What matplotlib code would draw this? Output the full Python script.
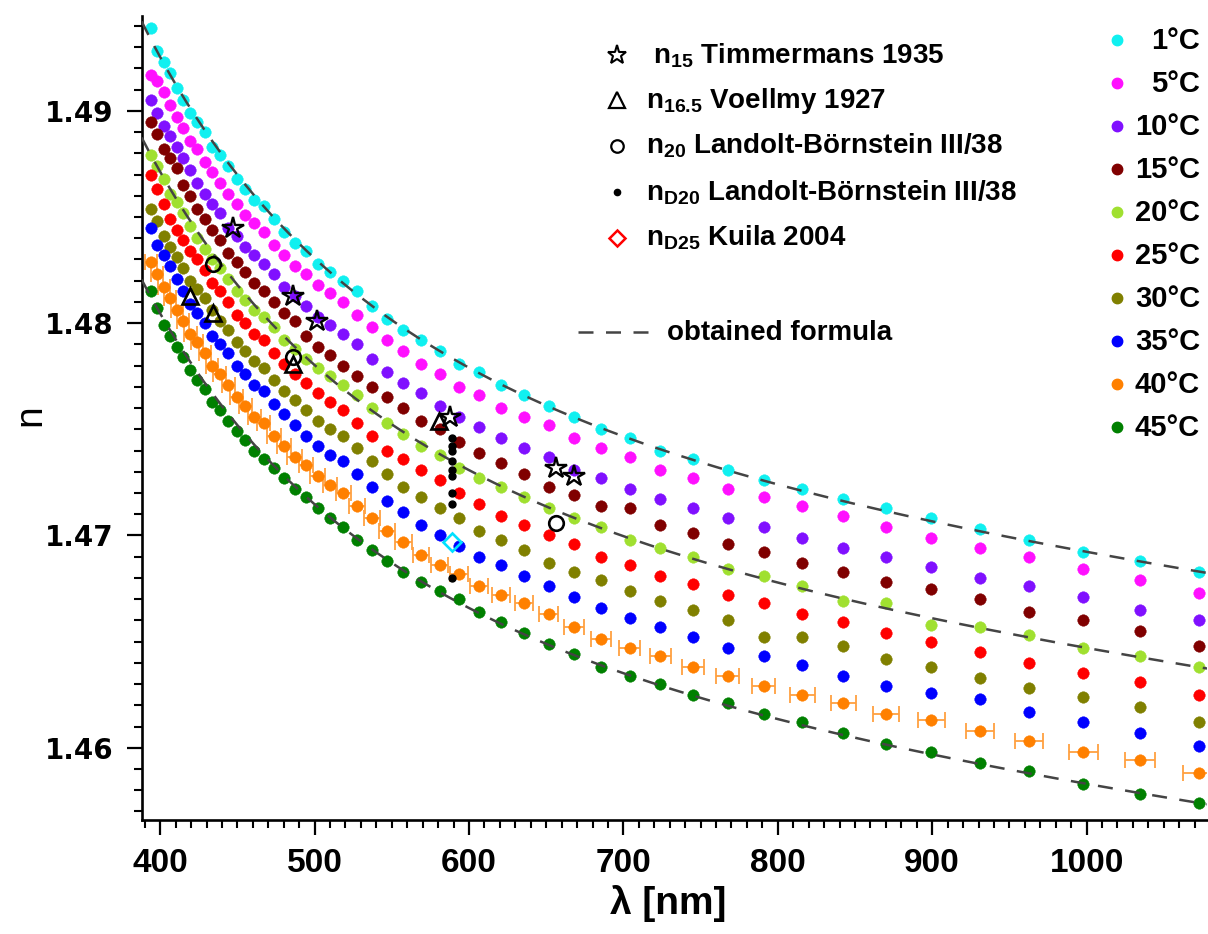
import numpy as np
import matplotlib
matplotlib.use("Agg")
import matplotlib.pyplot as plt
from matplotlib.ticker import MultipleLocator
from matplotlib.lines import Line2D

plt.rcParams['font.family'] = ['Liberation Sans', 'DejaVu Sans']
plt.rcParams['mathtext.default'] = 'regular'

W, H = 1208, 934

# measured wavelengths (nm), shared by every temperature
wavelength = [394, 398, 402.5, 406.5, 411, 415, 419.5, 424, 429, 433.5,
              438.5, 444, 449.5, 455, 461, 467, 473.5, 480, 487, 494.5,
              502, 510, 518.5, 527.5, 537, 547, 557.5, 569, 581, 593.5,
              606.5, 620.5, 635.5, 651.5, 668, 685.5, 704, 724, 745, 767.5,
              791, 816, 842.5, 870, 899.5, 931, 963, 998, 1034.5, 1072.5]

n_1C = [1.4939, 1.4928, 1.4923, 1.4918, 1.4911, 1.4905, 1.4899, 1.4895, 1.4890, 1.4883,
        1.4879, 1.4874, 1.4868, 1.4863, 1.4858, 1.4855, 1.4849, 1.4843, 1.4838, 1.4834,
        1.4828, 1.4824, 1.4820, 1.4815, 1.4808, 1.4802, 1.4797, 1.4792, 1.4787, 1.4781,
        1.4777, 1.4771, 1.4766, 1.4761, 1.4756, 1.4750, 1.4746, 1.4740, 1.4736, 1.4731,
        1.4726, 1.4722, 1.4717, 1.4713, 1.4708, 1.4703, 1.4698, 1.4692, 1.4688, 1.4683]
n_5C = [1.4917, 1.4914, 1.4909, 1.4903, 1.4897, 1.4892, 1.4886, 1.4882, 1.4876, 1.4871,
        1.4866, 1.4861, 1.4856, 1.4851, 1.4847, 1.4843, 1.4837, 1.4832, 1.4827, 1.4823,
        1.4818, 1.4814, 1.4810, 1.4804, 1.4798, 1.4792, 1.4787, 1.4781, 1.4776, 1.4770,
        1.4766, 1.4760, 1.4756, 1.4752, 1.4746, 1.4741, 1.4737, 1.4731, 1.4727, 1.4722,
        1.4718, 1.4714, 1.4709, 1.4704, 1.4699, 1.4694, 1.4690, 1.4684, 1.4679, 1.4673]
n_10C = [1.4905, 1.4899, 1.4893, 1.4888, 1.4883, 1.4878, 1.4872, 1.4866, 1.4861, 1.4856,
         1.4852, 1.4845, 1.4841, 1.4836, 1.4832, 1.4828, 1.4823, 1.4817, 1.4813, 1.4808,
         1.4803, 1.4799, 1.4795, 1.4790, 1.4783, 1.4777, 1.4772, 1.4767, 1.4761, 1.4756,
         1.4751, 1.4746, 1.4741, 1.4737, 1.4731, 1.4727, 1.4722, 1.4717, 1.4713, 1.4708,
         1.4704, 1.4699, 1.4694, 1.4690, 1.4685, 1.4680, 1.4676, 1.4671, 1.4665, 1.4660]
n_15C = [1.4895, 1.4889, 1.4882, 1.4878, 1.4873, 1.4865, 1.4860, 1.4854, 1.4849, 1.4844,
         1.4839, 1.4833, 1.4829, 1.4824, 1.4819, 1.4815, 1.4810, 1.4805, 1.4801, 1.4794,
         1.4789, 1.4785, 1.4780, 1.4775, 1.4770, 1.4765, 1.4760, 1.4754, 1.4750, 1.4744,
         1.4739, 1.4734, 1.4729, 1.4723, 1.4719, 1.4714, 1.4713, 1.4705, 1.4701, 1.4696,
         1.4692, 1.4687, 1.4683, 1.4678, 1.4675, 1.4670, 1.4664, 1.4660, 1.4655, 1.4648]
n_20C = [1.4879, 1.4874, 1.4868, 1.4861, 1.4857, 1.4852, 1.4846, 1.4840, 1.4835, 1.4830,
         1.4826, 1.4821, 1.4815, 1.4811, 1.4806, 1.4803, 1.4798, 1.4792, 1.4788, 1.4783,
         1.4779, 1.4775, 1.4771, 1.4766, 1.4760, 1.4753, 1.4748, 1.4742, 1.4738, 1.4732,
         1.4727, 1.4723, 1.4718, 1.4713, 1.4708, 1.4704, 1.4698, 1.4694, 1.4690, 1.4684,
         1.4681, 1.4676, 1.4669, 1.4668, 1.4658, 1.4657, 1.4653, 1.4647, 1.4643, 1.4638]
n_25C = [1.4870, 1.4863, 1.4856, 1.4849, 1.4844, 1.4839, 1.4834, 1.4830, 1.4825, 1.4819,
         1.4815, 1.4810, 1.4804, 1.4800, 1.4795, 1.4792, 1.4786, 1.4781, 1.4776, 1.4772,
         1.4767, 1.4763, 1.4759, 1.4753, 1.4747, 1.4740, 1.4736, 1.4731, 1.4726, 1.4720,
         1.4715, 1.4709, 1.4705, 1.4700, 1.4696, 1.4690, 1.4686, 1.4681, 1.4677, 1.4672,
         1.4668, 1.4663, 1.4659, 1.4654, 1.4650, 1.4645, 1.4640, 1.4635, 1.4631, 1.4625]
n_30C = [1.4854, 1.4848, 1.4841, 1.4836, 1.4831, 1.4826, 1.4820, 1.4816, 1.4812, 1.4806,
         1.4801, 1.4797, 1.4791, 1.4787, 1.4782, 1.4779, 1.4773, 1.4768, 1.4764, 1.4759,
         1.4754, 1.4750, 1.4747, 1.4741, 1.4735, 1.4729, 1.4723, 1.4718, 1.4713, 1.4708,
         1.4702, 1.4698, 1.4693, 1.4687, 1.4683, 1.4679, 1.4674, 1.4669, 1.4665, 1.4660,
         1.4652, 1.4652, 1.4648, 1.4642, 1.4638, 1.4633, 1.4628, 1.4624, 1.4619, 1.4612]
n_35C = [1.4845, 1.4837, 1.4832, 1.4827, 1.4821, 1.4815, 1.4809, 1.4805, 1.4800, 1.4794,
         1.4790, 1.4786, 1.4780, 1.4776, 1.4771, 1.4768, 1.4762, 1.4757, 1.4752, 1.4747,
         1.4742, 1.4738, 1.4735, 1.4729, 1.4723, 1.4716, 1.4711, 1.4705, 1.4700, 1.4695,
         1.4690, 1.4686, 1.4681, 1.4676, 1.4671, 1.4666, 1.4661, 1.4657, 1.4652, 1.4647,
         1.4643, 1.4639, 1.4634, 1.4629, 1.4626, 1.4623, 1.4617, 1.4612, 1.4607, 1.4601]
n_40C = [1.4829, 1.4823, 1.4817, 1.4812, 1.4806, 1.4801, 1.4795, 1.4791, 1.4786, 1.4780,
         1.4776, 1.4771, 1.4765, 1.4761, 1.4756, 1.4753, 1.4747, 1.4742, 1.4737, 1.4733,
         1.4728, 1.4724, 1.4720, 1.4714, 1.4708, 1.4702, 1.4697, 1.4691, 1.4686, 1.4682,
         1.4676, 1.4672, 1.4668, 1.4663, 1.4657, 1.4651, 1.4647, 1.4643, 1.4638, 1.4634,
         1.4629, 1.4625, 1.4621, 1.4616, 1.4613, 1.4608, 1.4603, 1.4598, 1.4594, 1.4588]
n_45C = [1.4815, 1.4807, 1.4799, 1.4794, 1.4789, 1.4784, 1.4778, 1.4773, 1.4769, 1.4763,
         1.4759, 1.4754, 1.4749, 1.4745, 1.4740, 1.4736, 1.4732, 1.4727, 1.4722, 1.4718,
         1.4713, 1.4708, 1.4704, 1.4698, 1.4693, 1.4688, 1.4683, 1.4678, 1.4674, 1.4670,
         1.4664, 1.4659, 1.4654, 1.4649, 1.4644, 1.4638, 1.4634, 1.4630, 1.4625, 1.4621,
         1.4616, 1.4612, 1.4607, 1.4602, 1.4598, 1.4593, 1.4589, 1.4583, 1.4578, 1.4574]

# wavelength uncertainty of the 40 C run (nm)
xerr_40C = [3.7, 3.8, 3.8, 3.9, 3.9, 3.9, 4.0, 4.0, 4.1, 4.1,
            4.2, 4.2, 4.3, 4.3, 4.4, 4.4, 4.5, 4.6, 4.6, 4.7,
            4.8, 4.8, 4.9, 5.0, 5.1, 5.2, 5.3, 5.4, 5.5, 5.6,
            5.8, 5.9, 6.0, 6.2, 6.3, 6.5, 6.7, 6.9, 7.1, 7.3,
            7.5, 7.8, 8.0, 8.3, 8.5, 8.8, 9.1, 9.5, 9.8, 10.2]

temp_labels = ['1', '5', '10', '15', '20', '25', '30', '35', '40', '45']
temp_colors = ['#10f0f0', '#ff10ff', '#8010ff', '#800000', '#a0e030',
               '#ff0000', '#808000', '#0000ff', '#ff8000', '#008000']
series = [n_1C, n_5C, n_10C, n_15C, n_20C, n_25C, n_30C, n_35C, n_40C, n_45C]

# literature values
timmermans_wl = [447.1, 486.1, 501.6, 587.6, 656.3, 667.8]
timmermans_n = [1.4845, 1.4813, 1.4801, 1.4756, 1.4732, 1.4728]
voellmy_wl = [419.5, 434.0, 486.1, 580.5]
voellmy_n = [1.4813, 1.4805, 1.4781, 1.4754]
lb_wl = [434.0, 486.1, 656.3]
lb_n = [1.4828, 1.4784, 1.4706]
lb_D_n = [1.4746, 1.4742, 1.4740, 1.4735, 1.4731, 1.4728, 1.4720, 1.4715, 1.4680]
kuila_wl = [589.3]
kuila_n = [1.4697]
na_d = 589.3

# fitted dispersion n = A + B/l^2 + C/l^4 + D*l^2 (l in um) at 1, 20 and 45 C
fit_A = [1.46841, 1.46405, 1.45770]
fit_B = [0.003680, 0.003513, 0.003461]
fit_C = 0.0000406
fit_D = -0.002901

fig = plt.figure(figsize=(W / 100, H / 100), dpi=100)
ax = fig.add_axes([141.7 / W, 1 - 819.5 / H, (W - 142.7) / W, (819.5 - 16) / H])

ax.errorbar(wavelength, n_40C, xerr=xerr_40C, fmt='none', ecolor='#ffa040',
            elinewidth=1.3, capsize=6, capthick=1.3, zorder=2)
for vals, col in zip(series, temp_colors):
    ax.plot(wavelength, vals, 'o', ms=8.3, color=col, mec=col, mew=0.3, zorder=3)

lam = np.linspace(388, 1078, 500) / 1000.0
for a, b in zip(fit_A, fit_B):
    n_fit = a + b / lam**2 + fit_C / lam**4 + fit_D * lam**2
    ax.plot(lam * 1000, n_fit, color='#444444', lw=1.8, dashes=(6, 5), zorder=4)

ax.plot(timmermans_wl, timmermans_n, '*', ms=16, mfc='none', mec='k', mew=1.7, zorder=6)
ax.plot(voellmy_wl, voellmy_n, '^', ms=12, mfc='none', mec='k', mew=1.9, zorder=6)
ax.plot(lb_wl, lb_n, 'o', ms=10.5, mfc='none', mec='k', mew=1.9, zorder=6)
ax.plot([na_d] * len(lb_D_n), lb_D_n, 'o', ms=5, color='k', zorder=6)
ax.plot(kuila_wl, kuila_n, 'D', ms=9.5, mfc='none', mec='#00e0ff', mew=1.9, zorder=6)

ax.set_xlim(388, 1078)
ax.set_ylim(1.45662, 1.49447)
ax.xaxis.set_major_locator(MultipleLocator(100))
ax.xaxis.set_minor_locator(MultipleLocator(10))
ax.yaxis.set_major_locator(MultipleLocator(0.01))
ax.yaxis.set_minor_locator(MultipleLocator(0.001))
ax.yaxis.set_major_formatter(plt.FuncFormatter(lambda v, p: f'{v:.2f}'))

for side in ['top', 'right']:
    ax.spines[side].set_visible(False)
for side in ['left', 'bottom']:
    ax.spines[side].set_linewidth(1.9)
ax.tick_params(which='major', direction='out', length=11, width=1.6, pad=9.5)
ax.tick_params(which='minor', direction='out', length=6, width=1.5)
for lab in ax.get_yticklabels():
    lab.set_family('DejaVu Sans')
    lab.set_weight('bold')
    lab.set_fontsize(20)
for lab in ax.get_xticklabels():
    lab.set_fontsize(24)
    lab.set_weight('bold')

fig.text(668 / W, 1 - 903 / H, 'λ [nm]', ha='center', va='center', fontsize=28,
         fontweight='bold')
fig.text(30 / W, 1 - 415 / H, 'n', ha='center', va='center', rotation=90, fontsize=28)


def fxy(x, y):
    return x / W, 1 - y / H


# reference data key
ref_rows = [
    ('*', dict(ms=14, mfc='none', mec='k', mew=1.5), r' n$_{15}$ Timmermans 1935', 55),
    ('^', dict(ms=11, mfc='none', mec='k', mew=1.6), r'n$_{16.5}$ Voellmy 1927', 100),
    ('o', dict(ms=9, mfc='none', mec='k', mew=1.6), r'n$_{20}$ Landolt-Börnstein III/38', 146),
    ('o', dict(ms=4.5, color='k'), r'n$_{D20}$ Landolt-Börnstein III/38', 192),
    ('D', dict(ms=8.5, mfc='none', mec='red', mew=1.8), r'n$_{D25}$ Kuila 2004', 238),
]
for mk, kw, txt, y in ref_rows:
    x0, y0 = fxy(617, y)
    fig.add_artist(Line2D([x0], [y0], marker=mk, linestyle='none',
                          transform=fig.transFigure, **kw))
    fig.text(*fxy(646, y + 8), txt, ha='left', va='baseline', fontsize=20,
             fontweight='bold')

xa, ya = fxy(578, 332)
xb, _ = fxy(652, 332)
fig.add_artist(Line2D([xa, xb], [ya, ya], color='#444444', lw=1.8, dashes=(6, 5),
                      transform=fig.transFigure))
fig.text(*fxy(667, 340), 'obtained formula', ha='left', va='baseline', fontsize=20,
         fontweight='bold')

# temperature key
for i, (t, col) in enumerate(zip(temp_labels, temp_colors)):
    y = 40 + i * 43.0
    x0, y0 = fxy(1117, y)
    fig.add_artist(Line2D([x0], [y0], marker='o', ms=7.5, color=col, linestyle='none',
                          transform=fig.transFigure))
    fig.text(*fxy(1200, y + 9), f'{t}°C', ha='right', va='baseline', fontsize=21,
             fontweight='bold')

fig.savefig('out.png', dpi=100, facecolor='white')
